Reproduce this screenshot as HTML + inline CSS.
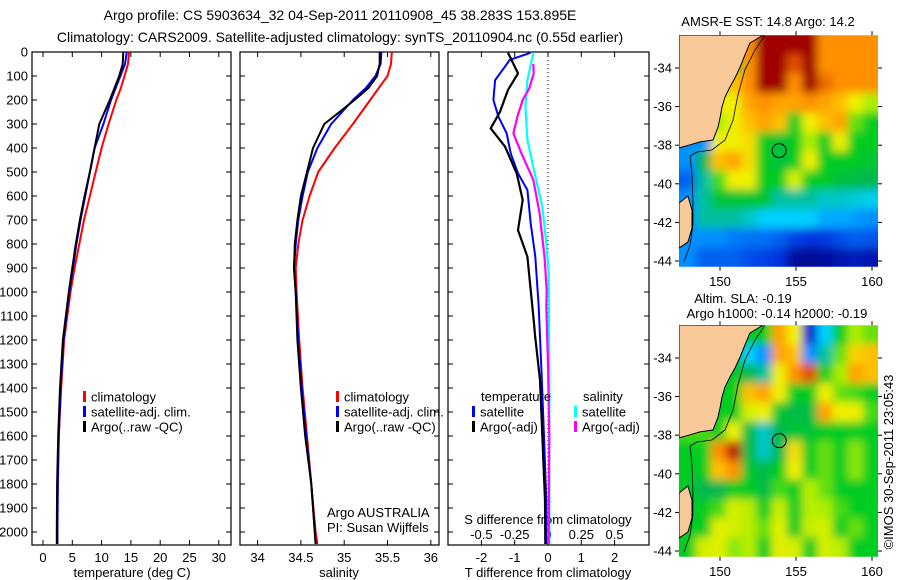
<!DOCTYPE html>
<html><head><meta charset="utf-8"><style>
body{margin:0;background:#fff;}
svg{display:block;font-family:"Liberation Sans",sans-serif;}
</style></head><body>
<svg id="fig" width="900" height="580" viewBox="0 0 900 580" xmlns="http://www.w3.org/2000/svg"></svg>
<script>
// ---------- data ----------
const depths = [0,50,100,150,200,300,400,500,600,700,800,900,1000,1200,1400,1600,1800,2000,2050];
const tempClim = [14.7,14.5,13.9,13.3,12.5,11.2,10.0,9.0,8.0,7.0,6.2,5.4,4.7,3.6,3.1,2.7,2.5,2.45,2.45];
const tempSat  = [14.3,14.0,13.2,12.4,11.6,10.3,8.8,8.0,7.2,6.4,5.7,5.1,4.5,3.5,3.0,2.7,2.55,2.45,2.45];
const tempArgo = [13.7,13.6,13.0,12.2,11.4,9.6,8.8,8.0,7.1,6.3,5.6,5.0,4.4,3.4,2.9,2.6,2.4,2.35,2.35];
const salClim = [35.55,35.54,35.5,35.4,35.3,35.1,34.89,34.7,34.6,34.52,34.47,34.44,34.45,34.48,34.52,34.57,34.62,34.67,34.69];
const salSat  = [35.43,35.42,35.36,35.25,35.1,34.85,34.69,34.58,34.52,34.47,34.44,34.42,34.44,34.47,34.51,34.56,34.62,34.66,34.67];
const salArgo = [35.41,35.41,35.38,35.28,35.12,34.77,34.64,34.57,34.5,34.46,34.43,34.42,34.44,34.46,34.5,34.55,34.62,34.66,34.67];

const tArgoDepth = [3,89,158,249,318,394,506,617,742,853,992,1033,1131,1179,1367,1533,1700,1867,2050];
const tArgoDiff  = [-1.2,-0.9,-1.2,-1.44,-1.72,-1.29,-0.94,-0.76,-0.9,-0.62,-0.52,-0.49,-0.42,-0.39,-0.24,-0.19,-0.14,-0.09,-0.08];
const tSatDepth = [3,33,61,117,200,269,339,422,506,575,714,853,1061,1353,1600,1867,2050];
const tSatDiff  = [-0.52,-1.15,-1.29,-1.59,-1.64,-1.49,-1.24,-1.12,-0.9,-0.62,-0.52,-0.38,-0.28,-0.19,-0.12,-0.05,-0.05];
const sArgoDepth = [50,89,150,200,269,339,422,533,672,853,992,1061,1300,1600,2050];
const sArgoDiff  = [-0.11,-0.107,-0.14,-0.19,-0.23,-0.26,-0.2,-0.11,-0.063,-0.026,-0.01,-0.013,0,0.01,0.005];
const sSatDepth = [6,117,228,367,506,644,783,922,1353,2050];
const sSatDiff  = [-0.11,-0.155,-0.17,-0.155,-0.1,-0.043,-0.015,0.005,0.01,0.01];

const depthTicks = [0,100,200,300,400,500,600,700,800,900,1000,1100,1200,1300,1400,1500,1600,1700,1800,1900,2000];
const tempTicks = [0,5,10,15,20,25,30];
const salTicks = [34,34.5,35,35.5,36];
const salTickLabels = ["34","34.5","35","35.5","36"];
const tDiffTicks = [-2,-1,0,1,2];
const sDiffTicks = [-0.5,-0.25,0,0.25,0.5];
const sDiffLabels = ["-0.5","-0.25","0","0.25","0.5"];

const mapLonTicks = [150,155,160];
const mapLatTicks = [-34,-36,-38,-40,-42,-44];
const gridLon0 = 147.4, gridLat0 = -32.3;
const sstGrid = [
[4,4,4,4,6,7,7,7,7,6,6,6,6],
[4,4,4,4,6,7,7,6.5,7,6,6,6,6],
[4,4,4,5.5,6,7,7,6,7,6.3,6,6,6],
[4,4,5,5,5.8,6,5.8,5.8,6,5.8,5.5,5,4.5],
[4,4,4.5,5,5.5,5.8,5.5,4,5,5.5,5.8,4.3,4],
[2,2,5,5,5.2,4,3.8,4,4.5,4,5,4,4],
[2,3.5,5.5,5.8,5.2,4,3.7,4,5,4,4,4,3.8],
[1.5,3,4.2,5,5,4,4,4.8,4,4,3.7,3.6,3.5],
[2,3,3.8,3.8,3.8,3.8,3,3,3,2.8,2.8,2.7,2.6],
[2,3,3,3,2.8,2.5,2.5,2.5,2.5,2.2,2.2,2.1,2],
[2,2,2,1.8,1.7,1.7,1.5,1.2,1,1.1,1.3,1.5,1.4],
[2,1.5,1.5,1.5,1.3,1.2,1,0.3,0.2,0.3,0.5,0.6,0.5]];
const slaGrid = [
[4,4,4,4,4,4,5.8,5,0.8,2.5,4,4.5,4.3],
[4,4,4,3.8,2.5,2,5.8,5.5,2,3,4.3,5.3,5.5],
[4,4,4,4,3.5,3,5,6,6.5,4,4.5,5.8,5.5],
[4,4,4,4,5.5,5.8,5,4,4,5,4.3,4.2,4],
[4,4,4,4,4.8,5,3.8,3.6,3.6,5.8,5,5,4.2],
[4.2,4.2,4,5,3.6,2.8,3.5,3.8,3.8,4,4,4,4],
[4,4,6,6.8,3.6,2.8,3.5,5.2,4,4.3,4,4.4,4],
[4,4,5.5,6,3.8,3.6,4,5,4,4.3,4,4.4,4],
[4,3.5,3.5,4,4,3.6,4.2,4,4.6,4.3,4,4,4],
[4,4,4.2,4.8,4.6,4,4.7,4,4.6,4.5,4.2,4,4],
[4,4,4.9,4.8,4.6,4.3,4.9,4,4.7,4.8,4,4.3,4],
[4,4.8,4.9,4.4,4.6,4,4.9,4.8,4,4.8,4.6,4,4]];
const landLon = [147.3,152.83,151.97,151.64,151.32,150.99,150.66,150.33,150.13,150,149.87,149.54,148.68,148.03,147.3];
const landLat = [-32.3,-32.3,-32.71,-33.33,-33.95,-34.52,-34.98,-35.5,-36.02,-36.59,-37.06,-37.73,-37.83,-37.98,-38.14];
const tasLon = [147.3,147.89,148.16,148.16,147.89,147.3];
const tasLat = [-41.0,-40.63,-41.36,-42.29,-43.02,-43.33];
const isoLon = [152.96,152.30,151.64,151.18,150.86,150.33,149.47,148.49,148.03,148.16,148.22,148.22,148.03,147.63];
const isoLat = [-32.3,-33.07,-34.1,-35.4,-36.69,-37.73,-38.25,-38.35,-38.56,-39.55,-40.84,-42.13,-43.17,-44.05];
const floatLon = 153.895, floatLat = -38.283;

// ---------- helpers ----------
const NS = "http://www.w3.org/2000/svg";
const svg = document.getElementById('fig');
function mk(tag, attrs, parent){ const e=document.createElementNS(NS,tag); for(const k in attrs) e.setAttribute(k,attrs[k]); (parent||svg).appendChild(e); return e; }
function txt(x,y,s,size,anchor,parent){ const t=mk('text',{x:x,y:y,'font-size':size,'text-anchor':anchor||'middle',fill:'#000'},parent); t.textContent=s; return t; }

const defs=mk('defs',{});
const flt=mk('filter',{id:'soft',x:'-10%',y:'-10%',width:'120%',height:'120%'},defs);
mk('feGaussianBlur',{stdDeviation:4.5},flt);

const yTop=52, yBot=545;
const dY = d => yTop + d*0.24;
const P1={x0:32,x1:231}, P2={x0:240,x1:439}, P3={x0:448,x1:649};
const tX = v => 43 + v*5.86;
const sX = v => 257.6 + (v-34)*86.6;
const dtX = v => 548 + v*33.3;
const dsX = v => 548 + v*133.2;

function frame(P,name){
  const r=mk('rect',{x:P.x0,y:yTop,width:P.x1-P.x0,height:yBot-yTop,fill:'none',stroke:'#000','stroke-width':1.2});
  
  
  depthTicks.forEach(d=>{
    const y=dY(d);
    const a=mk('line',{x1:P.x0,x2:P.x0+5,y1:y,y2:y,stroke:'#000'});
    
    
    const b=mk('line',{x1:P.x1-5,x2:P.x1,y1:y,y2:y,stroke:'#000'});
    
    
  });
}
function xticks(vals,fx,labels,ly){
  vals.forEach((v,i)=>{
    const x=fx(v);
    const a=mk('line',{x1:x,x2:x,y1:yTop,y2:yTop+5,stroke:'#000'});
    
    
    const b=mk('line',{x1:x,x2:x,y1:yBot-5,y2:yBot,stroke:'#000'});
    
    
    if(labels){ const t=txt(x,ly,labels[i],13);
      
       }
  });
}
function series(xs,ds,fx,color,w,name){
  const pts=xs.map((v,i)=>fx(v).toFixed(1)+','+dY(ds[i]).toFixed(1)).join(' ');
  const p=mk('polyline',{points:pts,fill:'none',stroke:color,'stroke-width':w,'stroke-linejoin':'round'});
  
  
}
function legendEntry(x,y,color,label){
  const g=mk('g',{});
  
  
  mk('rect',{x:x,y:y-6,width:3,height:11,fill:color},g);
  txt(x+8,y+4.5,label,13,'start',g);
}

// ---------- titles ----------
let t=txt(340,20,'Argo profile: CS 5903634_32 04-Sep-2011 20110908_45 38.283S 153.895E',14);


t=txt(340,42,'Climatology: CARS2009. Satellite-adjusted climatology: synTS_20110904.nc (0.55d earlier)',14);



// ---------- panel 1: temperature ----------
frame(P1,'temperature-panel');
depthTicks.forEach(d=>{ const l=txt(28,dY(d)+4.5,String(d),13,'end');
  
   });
xticks(tempTicks,tX,tempTicks.map(String),562);
t=txt(132,577,'temperature (deg C)',13);


series(tempClim,depths,tX,'#ff0000',2,'temp-climatology-line');
series(tempSat,depths,tX,'#0000ff',2,'temp-satellite-line');
series(tempArgo,depths,tX,'#000000',2,'temp-argo-line');
legendEntry(83,397,'#ff0000','climatology');
legendEntry(83,412,'#0000ff','satellite-adj. clim.');
legendEntry(83,427,'#000000','Argo(..raw -QC)');

// ---------- panel 2: salinity ----------
frame(P2,'salinity-panel');
xticks(salTicks,sX,salTickLabels,562);
t=txt(339,577,'salinity',13);


series(salClim,depths,sX,'#ff0000',2,'sal-climatology-line');
series(salSat,depths,sX,'#0000ff',2,'sal-satellite-line');
series(salArgo,depths,sX,'#000000',2,'sal-argo-line');
legendEntry(336,397,'#ff0000','climatology');
legendEntry(336,412,'#0000ff','satellite-adj. clim.');
legendEntry(336,427,'#000000','Argo(..raw -QC)');
t=txt(327,517,'Argo AUSTRALIA',13,'start');


t=txt(327,532,'PI: Susan Wijffels',13,'start');



// ---------- panel 3: differences ----------
frame(P3,'difference-panel');
xticks(tDiffTicks,dtX,tDiffTicks.map(String),562);
sDiffTicks.forEach((v,i)=>{ const l=txt(dsX(v),539,sDiffLabels[i],13);
  
   });
t=txt(548,524,'S difference from climatology',13);


t=txt(548,577,'T difference from climatology',13);


const zl=mk('line',{x1:dtX(0),x2:dtX(0),y1:yTop,y2:yBot,stroke:'#000','stroke-dasharray':'1,3'});


series(sSatDiff,sSatDepth,dsX,'#00ffff',2.2,'s-satellite-diff-line');
series(sArgoDiff,sArgoDepth,dsX,'#ff00ff',2.2,'s-argo-diff-line');
series(tSatDiff,tSatDepth,dtX,'#0000ff',2,'t-satellite-diff-line');
series(tArgoDiff,tArgoDepth,dtX,'#000000',2.2,'t-argo-diff-line');
t=txt(481,401,'temperature',13,'start');


t=txt(583,401,'salinity',13,'start');


legendEntry(472,412,'#0000ff','satellite');
legendEntry(472,427,'#000000','Argo(-adj)');
legendEntry(574,412,'#00ffff','satellite');
legendEntry(574,427,'#ff00ff','Argo(-adj)');

// ---------- maps ----------
const stops=[[0,[0,0,128]],[1,[0,48,224]],[2,[0,144,255]],[2.5,[0,208,255]],[3,[0,192,160]],[3.5,[0,184,80]],[4,[0,204,34]],[4.5,[170,238,0]],[5,[240,240,0]],[5.5,[255,192,0]],[6,[255,144,0]],[6.5,[224,80,0]],[7,[160,0,0]]];
function cmap(v){
  for(let i=1;i<stops.length;i++){ if(v<=stops[i][0]){ const a=stops[i-1],b=stops[i]; const f=(v-a[0])/(b[0]-a[0]);
    const c=a[1].map((x,k)=>Math.round(x+(b[1][k]-x)*f)); return 'rgb('+c.join(',')+')'; } }
  return 'rgb(160,0,0)';
}
function drawMap(oy,grid,name,title1,title2){
  const lonX = lon => 720 + (lon-150)*15.2;
  const latY = lat => oy + 68 - (lat+34)*19.3;
  const g=mk('g',{});
  
  
  const clip=mk('clipPath',{id:name+'-clip'},g);
  mk('rect',{x:679,y:latY(gridLat0),width:199,height:latY(-44.3)-latY(gridLat0)},clip);
  const cg=mk('g',{'clip-path':'url(#'+name+'-clip)'},g);
  const bg=mk('g',{filter:'url(#soft)'},cg);
  const nR=grid.length, nC=grid[0].length;
  grid.forEach((row,r)=>row.forEach((v,c)=>{
    let x=lonX(gridLon0+c), y=latY(gridLat0-r), w=15.6, h=19.7;
    if(c===0){x-=14;w+=14;} if(c===nC-1){w+=14;}
    if(r===0){y-=14;h+=14;} if(r===nR-1){h+=14;}
    const cell=mk('rect',{x:x,y:y,width:w,height:h,fill:cmap(v)},bg);
    
    
  }));
  const pts=(lo,la)=>lo.map((v,i)=>lonX(v).toFixed(1)+','+latY(la[i]).toFixed(1)).join(' ');
  const land=mk('polygon',{points:pts(landLon,landLat),fill:'#f9c99a',stroke:'#000','stroke-width':1},cg);
  
  
  const tas=mk('polygon',{points:pts(tasLon,tasLat),fill:'#f9c99a',stroke:'#000','stroke-width':1},cg);
  
  
  const iso=mk('polyline',{points:pts(isoLon,isoLat),fill:'none',stroke:'#000','stroke-width':0.8},cg);
  
  
  const circ=mk('circle',{cx:lonX(floatLon),cy:latY(floatLat),r:7,fill:'none',stroke:'#000','stroke-width':1},g);
  
  
  const yT=latY(gridLat0), yB=latY(-44.3);
  mapLonTicks.forEach(lon=>{
    const x=lonX(lon);
    const a=mk('line',{x1:x,x2:x,y1:yT-4,y2:yT,stroke:'#000'},g);
    
    
    const b=mk('line',{x1:x,x2:x,y1:yB,y2:yB+4,stroke:'#000'},g);
    
    
    const l=txt(x,yB+19,String(lon),13,'middle',g);
    
    
  });
  mapLatTicks.forEach(lat=>{
    const y=latY(lat);
    const a=mk('line',{x1:675,x2:679,y1:y,y2:y,stroke:'#000'},g);
    
    
    const b=mk('line',{x1:878,x2:882,y1:y,y2:y,stroke:'#000'},g);
    
    
    const l=txt(672,y+4.5,String(lat),13,'end',g);
    
    
  });
  if(title2){
    const a=txt(743,oy+13,title1,13,'middle',g);
    
    
    const b=txt(777,oy+28,title2,13,'middle',g);
    
    
  } else {
    const a=txt(768,oy+26,title1,13,'middle',g);
    
    
  }
}
drawMap(0,sstGrid,'sst-map','AMSR-E SST: 14.8 Argo: 14.2');
drawMap(290,slaGrid,'sla-map','Altim. SLA: -0.19','Argo h1000: -0.14 h2000: -0.19');

t=txt(0,0,'\u00A9IMOS 30-Sep-2011 23:05:43',13,'middle');
t.setAttribute('transform','translate(893,462) rotate(-90)');


</script>
</body></html>
